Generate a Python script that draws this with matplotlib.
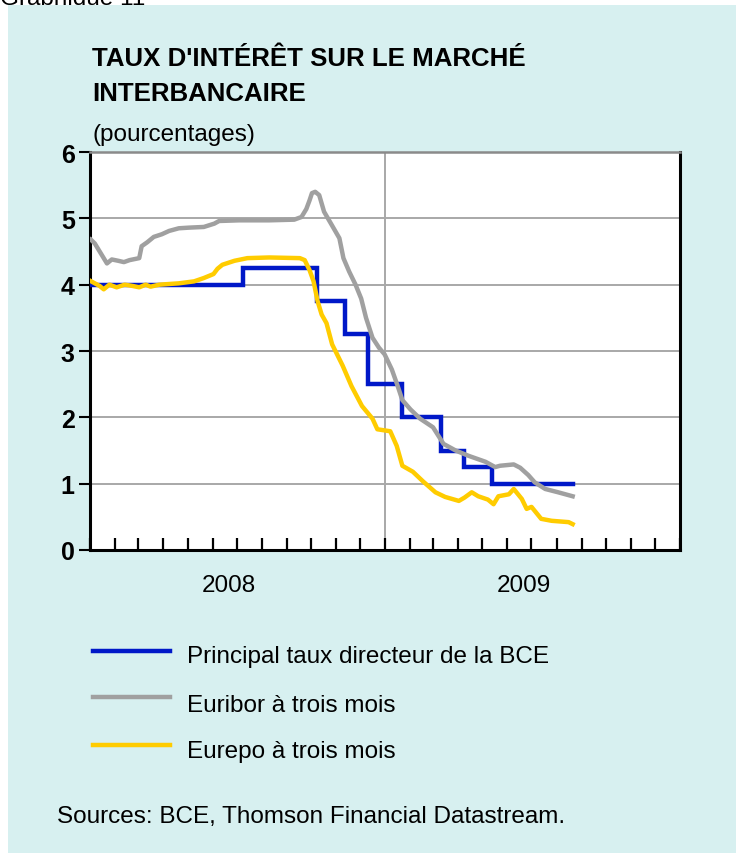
import matplotlib
matplotlib.use("Agg")
import matplotlib.pyplot as plt
import matplotlib.dates as mdates
from matplotlib.patches import Rectangle
import numpy as np

plt.rcParams['font.family'] = ['Liberation Sans', 'DejaVu Sans']

# ---------------- data ----------------
ecb_dates = ["2008-01-01", "2008-07-09", "2008-10-08", "2008-11-12", "2008-12-10",
             "2009-01-21", "2009-03-11", "2009-04-08", "2009-05-13", "2009-08-21"]
ecb_rate = [4.00, 4.25, 3.75, 3.25, 2.50, 2.00, 1.50, 1.25, 1.00, 1.00]

euribor_dates = ["2008-01-02", "2008-01-07", "2008-01-13", "2008-01-18", "2008-01-22",
                 "2008-01-28", "2008-02-05", "2008-02-12", "2008-02-19", "2008-03-02",
                 "2008-03-05", "2008-03-12", "2008-03-20", "2008-03-30", "2008-04-08",
                 "2008-04-20", "2008-05-03", "2008-05-21", "2008-06-03", "2008-06-09",
                 "2008-07-04", "2008-08-10", "2008-09-10", "2008-09-19", "2008-09-25",
                 "2008-09-29", "2008-10-02", "2008-10-06", "2008-10-11", "2008-10-17",
                 "2008-10-27", "2008-11-05", "2008-11-10", "2008-11-17", "2008-11-25",
                 "2008-12-02", "2008-12-08", "2008-12-16", "2008-12-24", "2008-12-31",
                 "2009-01-09", "2009-01-16", "2009-01-22", "2009-02-01", "2009-02-13",
                 "2009-03-01", "2009-03-14", "2009-03-29", "2009-04-14", "2009-05-05",
                 "2009-05-17", "2009-05-23", "2009-06-09", "2009-06-17", "2009-06-27",
                 "2009-07-05", "2009-07-18", "2009-08-03", "2009-08-21"]
euribor = [4.68, 4.62, 4.50, 4.40, 4.32,
           4.38, 4.36, 4.34, 4.37, 4.40,
           4.58, 4.64, 4.72, 4.76, 4.81,
           4.85, 4.86, 4.87, 4.92, 4.96,
           4.97, 4.97, 4.98, 5.02, 5.14,
           5.27, 5.38, 5.40, 5.35, 5.10,
           4.89, 4.70, 4.40, 4.20, 4.00,
           3.79, 3.50, 3.20, 3.05, 2.95,
           2.72, 2.48, 2.26, 2.12, 1.98,
           1.85, 1.60, 1.50, 1.42, 1.33,
           1.25, 1.27, 1.29, 1.24, 1.13,
           1.02, 0.92, 0.87, 0.81]

eurepo_dates = ["2008-01-01", "2008-01-07", "2008-01-13", "2008-01-18", "2008-01-25",
                "2008-02-03", "2008-02-13", "2008-02-23", "2008-03-02", "2008-03-10",
                "2008-03-16", "2008-03-27", "2008-04-20", "2008-05-09", "2008-05-21",
                "2008-06-02", "2008-06-07", "2008-06-13", "2008-06-28", "2008-07-14",
                "2008-08-10", "2008-09-17", "2008-09-23", "2008-09-29", "2008-10-04",
                "2008-10-09", "2008-10-14", "2008-10-20", "2008-10-27", "2008-11-09",
                "2008-11-20", "2008-12-03", "2008-12-16", "2008-12-22", "2009-01-07",
                "2009-01-15", "2009-01-22", "2009-02-04", "2009-02-17", "2009-03-04",
                "2009-03-16", "2009-04-02", "2009-04-09", "2009-04-18", "2009-04-26",
                "2009-05-08", "2009-05-15", "2009-05-21", "2009-06-03", "2009-06-09",
                "2009-06-19", "2009-06-25", "2009-07-01", "2009-07-13", "2009-07-26",
                "2009-08-16", "2009-08-21"]
eurepo = [4.06, 4.02, 3.98, 3.93, 4.00,
          3.96, 4.00, 3.98, 3.96, 4.00,
          3.97, 4.00, 4.02, 4.05, 4.10,
          4.16, 4.24, 4.30, 4.36, 4.40,
          4.41, 4.40, 4.37, 4.22, 4.05,
          3.75, 3.55, 3.42, 3.10, 2.78,
          2.47, 2.17, 1.98, 1.82, 1.79,
          1.57, 1.27, 1.18, 1.03, 0.87,
          0.80, 0.74, 0.79, 0.87, 0.81,
          0.76, 0.69, 0.81, 0.84, 0.92,
          0.77, 0.62, 0.65, 0.47, 0.44,
          0.42, 0.39]

year_labels = ["2008", "2009"]
y_ticks = [0, 1, 2, 3, 4, 5, 6]
legend_labels = ["Principal taux directeur de la BCE", "Euribor à trois mois", "Eurepo à trois mois"]
title_lines = ["TAUX D'INTÉRÊT SUR LE MARCHÉ", "INTERBANCAIRE"]
subtitle = "(pourcentages)"
source_text = "Sources: BCE, Thomson Financial Datastream."

# ---------------- style ----------------
W, H = 736, 854
BLUE = "#0018c8"
GRAY = "#a0a0a0"
YELLOW = "#ffcc00"
TEAL = "#d7f0f0"
GRID = "#a8a8a8"
FS = 17.5

def fx(x):
    return x / W

def fy(y):
    return 1 - y / H

fig = plt.figure(figsize=(W / 100, H / 100), dpi=100)
fig.patch.set_facecolor("white")

# caption at the top, mostly hidden behind the panel as in the reference
fig.text(0, fy(5), "Graphique 11", fontsize=FS, va="baseline", ha="left",
         color="black", zorder=-3)
fig.patches.append(Rectangle((fx(8), 0), 1 - fx(8), fy(6), transform=fig.transFigure,
                             facecolor=TEAL, edgecolor="none", zorder=-2))

ax = fig.add_axes([fx(90), fy(551), fx(680) - fx(90), fy(153) - fy(551)])
ax.set_facecolor("white")

to_d = lambda lst: mdates.datestr2num(lst)

ax.plot(to_d(ecb_dates), ecb_rate, color=BLUE, lw=3.2, drawstyle="steps-post",
        solid_joinstyle="miter", zorder=3)
ax.plot(to_d(euribor_dates), euribor, color=GRAY, lw=3.2, zorder=4)
ax.plot(to_d(eurepo_dates), eurepo, color=YELLOW, lw=3.2, zorder=5)

x0 = mdates.datestr2num("2008-01-01")
x1 = mdates.datestr2num("2010-01-01")
ax.set_xlim(x0, x1)
ax.set_ylim(0, 6)

# grid
for v in y_ticks[1:]:
    ax.axhline(v, color=GRID, lw=1.4, zorder=1)
ax.axvline(mdates.datestr2num("2009-01-01"), color=GRID, lw=1.4, zorder=1)

# spines
for s in ["left", "bottom", "right"]:
    ax.spines[s].set_linewidth(2.2)
    ax.spines[s].set_color("black")
ax.spines["top"].set_linewidth(1.8)
ax.spines["top"].set_color("#8a8a8a")

# y ticks
ax.set_yticks(y_ticks)
ax.set_yticklabels([str(v) for v in y_ticks], fontsize=18, fontweight="bold")
ax.tick_params(axis="y", direction="out", length=8, width=1.5, pad=3, colors="black")

# x ticks: monthly, inward
months = mdates.datestr2num(["%d-%02d-01" % (y, m) for y in (2008, 2009) for m in range(1, 13)]
                            + ["2010-01-01"])
ax.set_xticks(months)
ax.set_xticklabels([])
ax.tick_params(axis="x", direction="in", length=8.5, width=1.6, colors="black")

# year labels
for lab in year_labels:
    ax.text(mdates.datestr2num(lab + "-06-21"), -0.62, lab, fontsize=FS,
            ha="center", va="baseline", transform=ax.transData, clip_on=False)

# titles
fig.text(fx(92), fy(66), title_lines[0], fontsize=18.6, fontweight="bold", va="baseline")
fig.text(fx(92), fy(101), title_lines[1], fontsize=18.6, fontweight="bold", va="baseline")
fig.text(fx(92), fy(141), subtitle, fontsize=17.5, va="baseline")

# legend
leg_y = [652, 698, 746]
leg_base = [663, 712, 758]
for col, lab, ly, lb in zip([BLUE, GRAY, YELLOW], legend_labels, leg_y, leg_base):
    fig.add_artist(plt.Line2D([fx(93), fx(170)], [fy(ly), fy(ly)], color=col, lw=3.2,
                              transform=fig.transFigure))
    fig.text(fx(187), fy(lb), lab, fontsize=FS, va="baseline")

fig.text(fx(57), fy(823), source_text, fontsize=FS, va="baseline")

fig.savefig("out.png", dpi=100, facecolor=fig.get_facecolor())
